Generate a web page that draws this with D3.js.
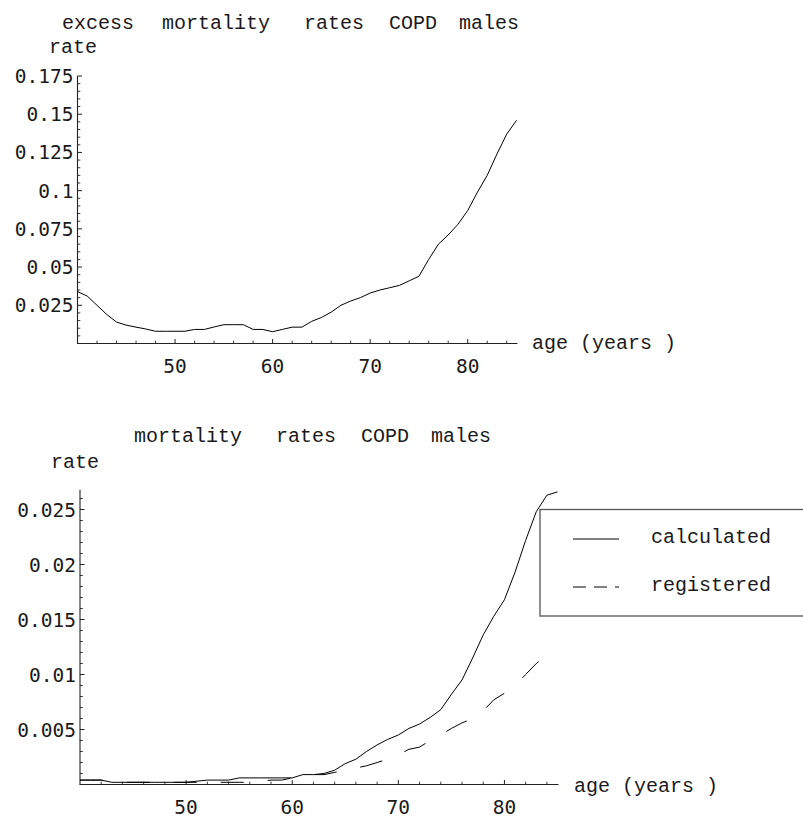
<!DOCTYPE html>
<html>
<head>
<meta charset="utf-8">
<script src="https://cdn.jsdelivr.net/npm/d3@7"></script>
<style>
  html, body { margin: 0; padding: 0; background: #fff; }
  svg { display: block; }
  .serif { font-family: "Liberation Mono", "Courier New", monospace; font-size: 20px; fill: #1a1a1a; }
  .tick { font-family: "DejaVu Sans Mono", monospace; font-size: 19.5px; fill: #1a1a1a; }
</style>
</head>
<body>
<svg id="chart" width="803" height="817"></svg>
<script>
// ---------------- data ----------------
const ages = [40,41,42,43,44,45,46,47,48,49,50,51,52,53,54,55,56,57,58,59,60,61,62,63,64,65,66,67,68,69,70,71,72,73,74,75,76,77,78,79,80,81,82,83,84,85];

const excessRate = [0.034,0.031,0.025,0.019,0.014,0.012,0.0107,0.0095,0.008,0.008,0.008,0.008,0.0092,0.0092,0.0108,0.0123,0.0123,0.0123,0.0092,0.0092,0.0077,0.0092,0.0107,0.0107,0.0145,0.017,0.0205,0.025,0.0278,0.030,0.033,0.035,0.0365,0.038,0.041,0.044,0.055,0.065,0.071,0.078,0.087,0.099,0.110,0.124,0.137,0.146];

const calculated = [0.0004,0.0004,0.0004,0.0002,0.0002,0.0002,0.0002,0.0002,0.0002,0.0002,0.0002,0.0003,0.0004,0.0004,0.0004,0.0006,0.0006,0.0006,0.0006,0.0006,0.0006,0.0009,0.0009,0.0010,0.0013,0.0019,0.0023,0.0030,0.0036,0.0041,0.0045,0.0051,0.0055,0.0061,0.0068,0.0082,0.0095,0.0115,0.0136,0.0153,0.0168,0.0193,0.0222,0.0248,0.0263,0.0266];

const registered = [0.0004,0.0004,0.0004,0.0002,0.0002,0.0002,0.0002,0.0002,0.0002,0.0002,0.0002,0.0002,0.0002,0.0002,0.0002,0.0002,0.0002,0.0003,0.0004,0.0004,0.0006,0.0009,0.0009,0.0009,0.0011,0.0013,0.0015,0.0017,0.0020,0.0023,0.0027,0.0032,0.0034,0.0040,0.0045,0.0051,0.0056,0.0060,0.0067,0.0077,0.0083,0.0090,0.0100,0.0110,0.0118,0.0124];

const xMajorTicks = [50,60,70,80];
const xMinorTicks = [42,44,46,48,52,54,56,58,62,64,66,68,72,74,76,78,82,84];
const xTickLabels = ["50","60","70","80"];

const topYMajor = [0.025,0.05,0.075,0.1,0.125,0.15,0.175];
const topYLabels = ["0.025","0.05","0.075","0.1","0.125","0.15","0.175"];
const topYMinor = [0.005,0.01,0.015,0.02,0.03,0.035,0.04,0.045,0.055,0.06,0.065,0.07,0.08,0.085,0.09,0.095,0.105,0.11,0.115,0.12,0.13,0.135,0.14,0.145,0.155,0.16,0.165,0.17];

const botYMajor = [0.005,0.01,0.015,0.02,0.025];
const botYLabels = ["0.005","0.01","0.015","0.02","0.025"];
const botYMinor = [0.001,0.002,0.003,0.004,0.006,0.007,0.008,0.009,0.011,0.012,0.013,0.014,0.016,0.017,0.018,0.019,0.021,0.022,0.023,0.024,0.026];

const topTitleWords = ["excess","mortality","rates","COPD","males"];
const botTitleWords = ["mortality","rates","COPD","males"];
const legendLabels = ["calculated","registered"];
const yAxisLabel = "rate";
const xAxisLabel = "age (years )";

// ---------------- drawing ----------------
const svg = d3.select("#chart");
svg.append("rect").attr("width",803).attr("height",817).attr("fill","#fff");

function panel(opts) {
  const g = svg.append("g");
  const x = d3.scaleLinear().domain([40,85]).range(opts.xRange);
  const y = d3.scaleLinear().domain(opts.yDomain).range(opts.yRange);
  const x0 = x(40), y0 = y(0);
  const axisColor = "#222";

  // axes lines
  g.append("line").attr("x1", opts.xRange[0]-0.5).attr("x2", opts.xRange[1]+1)
    .attr("y1", y0).attr("y2", y0).attr("stroke", axisColor).attr("stroke-width", 1.1);
  g.append("line").attr("x1", x0).attr("x2", x0)
    .attr("y1", y0).attr("y2", y(opts.yDomain[1])).attr("stroke", axisColor).attr("stroke-width", 1.1);

  // x ticks (pointing into plot)
  g.selectAll(".xmaj").data(xMajorTicks).join("line")
    .attr("x1", d=>x(d)).attr("x2", d=>x(d)).attr("y1", y0).attr("y2", y0-4.5)
    .attr("stroke", axisColor).attr("stroke-width", 1);
  g.selectAll(".xmin").data(xMinorTicks).join("line")
    .attr("x1", d=>x(d)).attr("x2", d=>x(d)).attr("y1", y0).attr("y2", y0-2.8)
    .attr("stroke", axisColor).attr("stroke-width", 0.9);
  g.selectAll(".xlab").data(xMajorTicks).join("text").attr("class","tick")
    .attr("x", d=>x(d)).attr("y", y0+29).attr("text-anchor","middle")
    .text((d,i)=>xTickLabels[i]);

  // y ticks
  g.selectAll(".ymaj").data(opts.yMajor).join("line")
    .attr("x1", x0).attr("x2", x0+4.5).attr("y1", d=>y(d)).attr("y2", d=>y(d))
    .attr("stroke", axisColor).attr("stroke-width", 1);
  g.selectAll(".ymin").data(opts.yMinor).join("line")
    .attr("x1", x0).attr("x2", x0+2.8).attr("y1", d=>y(d)).attr("y2", d=>y(d))
    .attr("stroke", axisColor).attr("stroke-width", 0.9);
  g.selectAll(".ylab").data(opts.yMajor).join("text").attr("class","tick")
    .attr("x", x0-4).attr("y", d=>y(d)+7).attr("text-anchor","end")
    .text((d,i)=>opts.yLabels[i]);

  // series
  const line = d3.line().x((d,i)=>x(ages[i])).y(d=>y(d));
  opts.series.forEach(s => {
    g.append("path").datum(s.values).attr("d", line)
      .attr("fill","none").attr("stroke","#000").attr("stroke-width",1)
      .attr("stroke-dasharray", s.dash || null);
  });

  // titles
  g.selectAll(".tw").data(opts.titleWords).join("text").attr("class","serif")
    .attr("x",(d,i)=>opts.titleX[i]).attr("y",opts.titleY).text(d=>d);
  g.append("text").attr("class","serif").attr("x",opts.rateX).attr("y",opts.rateY).text(yAxisLabel);
  g.append("text").attr("class","serif").attr("x",opts.ageX).attr("y",opts.ageY).text(xAxisLabel);
  return {x, y, g};
}

panel({
  xRange: [77.5, 516.5],
  yDomain: [0, 0.175], yRange: [343.5, 76],
  yMajor: topYMajor, yMinor: topYMinor, yLabels: topYLabels,
  series: [{values: excessRate}],
  titleWords: topTitleWords, titleX: [62,162,304,389,459], titleY: 29,
  rateX: 49, rateY: 53, ageX: 532, ageY: 349
});

const bot = panel({
  xRange: [80, 557.5],
  yDomain: [0, 0.0268], yRange: [784.5, 489.7],
  yMajor: botYMajor, yMinor: botYMinor, yLabels: botYLabels,
  series: [{values: calculated}, {values: registered, dash: "23,24"}],
  titleWords: botTitleWords, titleX: [134,276,361,431], titleY: 442,
  rateX: 51, rateY: 468, ageX: 574, ageY: 792
});

// legend
const lg = svg.append("g");
lg.append("rect").attr("x",540).attr("y",509.5).attr("width",320).attr("height",106.5)
  .attr("fill","#fff").attr("stroke","#555").attr("stroke-width",1.3);
const legendY = [539, 587];
const legendDash = [null, "13,8"];
lg.selectAll(".ll").data(legendLabels).join("line")
  .attr("x1",573).attr("x2",619).attr("y1",(d,i)=>legendY[i]).attr("y2",(d,i)=>legendY[i])
  .attr("stroke","#000").attr("stroke-width",1).attr("stroke-dasharray",(d,i)=>legendDash[i]);
lg.selectAll(".lt").data(legendLabels).join("text").attr("class","serif")
  .attr("x",651).attr("y",(d,i)=>legendY[i]+4).text(d=>d);
</script>
</body>
</html>
